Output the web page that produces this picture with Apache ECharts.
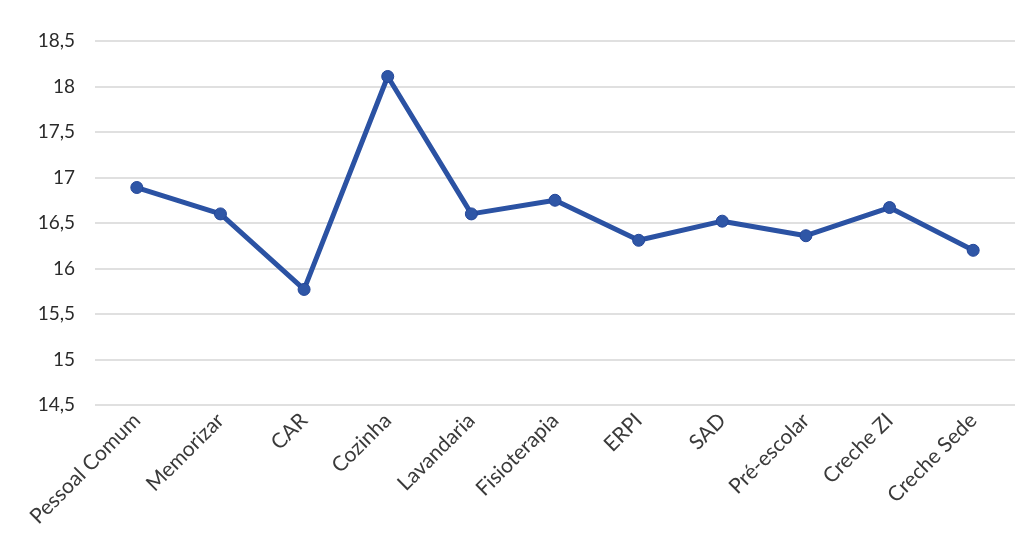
<!DOCTYPE html>
<html>
<head>
<meta charset="utf-8">
<script src="https://cdn.jsdelivr.net/npm/echarts@6/dist/echarts.min.js"></script>
<style>
html,body{margin:0;padding:0;background:#fff;}
#chart{width:1033px;height:556px;}
</style>
</head>
<body>
<div id="chart"></div>
<script>
const categories = ['Pessoal Comum','Memorizar','CAR','Cozinha','Lavandaria','Fisioterapia','ERPI','SAD','Pré-escolar','Creche ZI','Creche Sede'];
const values = [16.89, 16.6, 15.77, 18.11, 16.6, 16.75, 16.31, 16.52, 16.36, 16.67, 16.2];
const yTicks = [14.5, 15, 15.5, 16, 16.5, 17, 17.5, 18, 18.5];

const chart = echarts.init(document.getElementById('chart'));
chart.setOption({
  animation: false,
  backgroundColor: '#ffffff',
  grid: { left: 95, right: 18, top: 41, bottom: 151, containLabel: false },
  xAxis: {
    type: 'category',
    data: categories,
    boundaryGap: true,
    axisLine: { show: false },
    axisTick: { show: false },
    axisLabel: {
      rotate: 45, margin: 12, interval: 0,
      fontFamily: 'Lato, "Open Sans", sans-serif', fontSize: 21, color: '#3a3a3a'
    }
  },
  yAxis: {
    type: 'value',
    min: yTicks[0], max: yTicks[yTicks.length - 1], interval: 0.5,
    axisLine: { show: false },
    axisTick: { show: false },
    splitLine: { lineStyle: { color: '#d6d6d6', width: 1.5 } },
    axisLabel: {
      margin: 20,
      fontFamily: 'Lato, "Open Sans", sans-serif', fontSize: 19, color: '#2b2b2b',
      formatter: v => String(v).replace('.', ',')
    }
  },
  series: [{
    type: 'line',
    data: values,
    symbol: 'circle',
    symbolSize: 12,
    lineStyle: { color: '#2b52a3', width: 5 },
    itemStyle: { color: '#2f56a6', borderColor: '#24479a', borderWidth: 1 }
  }]
});
</script>
</body>
</html>
